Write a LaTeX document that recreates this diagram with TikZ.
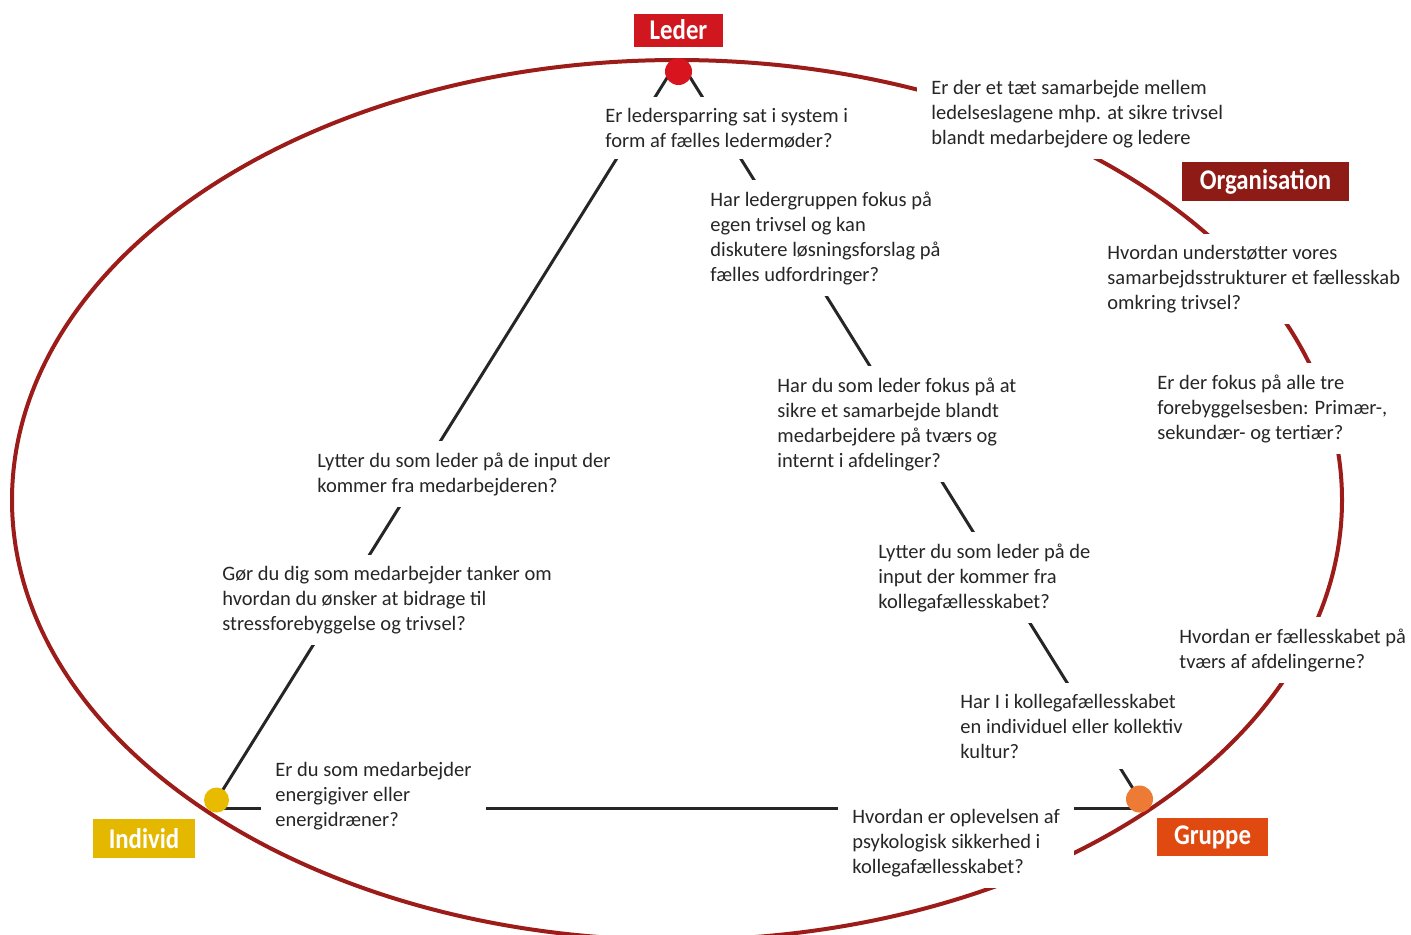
\documentclass[tikz,border=0pt]{standalone}
\usepackage{fontspec}
\setmainfont{Carlito}
\usetikzlibrary{backgrounds,calc}
\definecolor{txt}{HTML}{262626}
\definecolor{ringred}{HTML}{9B1C18}
\definecolor{lederred}{HTML}{D0161E}
\definecolor{orgred}{HTML}{8E1B15}
\definecolor{indyellow}{HTML}{E5B800}
\definecolor{grporange}{HTML}{E04A10}
\definecolor{dotred}{HTML}{D8141F}
\definecolor{dotyellow}{HTML}{E8BA00}
\definecolor{dotorange}{HTML}{EE7B35}
\begin{document}
\begin{tikzpicture}[x=0.5pt,y=-0.5pt,
  q/.style={anchor=base west, align=left, fill=white, inner xsep=7pt, inner ysep=5.5pt, text=txt, font=\fontsize{10.25pt}{12.5pt}\selectfont},
  dot/.style={circle, inner sep=0pt, draw=none},
  lab/.style={inner sep=0pt, text=white, font=\bfseries\fontsize{12.4pt}{14pt}\selectfont},
  tri/.style={line width=1.5pt, draw=black!85},
  ring/.style={line width=2pt, draw=ringred}]
\useasboundingbox (0,0) rectangle (1411,934);
% question texts (anchored at the baseline of their last line)
\node[q] (t1) at (591,147) {Er ledersparring sat i system i\\form af fælles ledermøder?};
\node[q] (t2) at (917,144) {Er der et tæt samarbejde mellem\\ledelseslagene mhp. at sikre trivsel\\blandt medarbejdere og ledere};
\node[q] (t3) at (696,281) {Har ledergruppen fokus på\\egen trivsel og kan\\diskutere løsningsforslag på\\fælles udfordringer?};
\node[q] (t4) at (1093,309) {Hvordan understøtter vores\\samarbejdsstrukturer et fællesskab\\omkring trivsel?};
\node[q] (t5) at (1143,439) {Er der fokus på alle tre\\forebyggelsesben: Primær-,\\sekundær- og tertiær?};
\node[q] (t6) at (763,467) {Har du som leder fokus på at\\sikre et samarbejde blandt\\medarbejdere på tværs og\\internt i afdelinger?};
\node[q] (t7) at (303,492) {Lytter du som leder på de input der\\kommer fra medarbejderen?};
\node[q] (t8) at (864,608) {Lytter du som leder på de\\input der kommer fra\\kollegafællesskabet?};
\node[q] (t9) at (208,630) {Gør du dig som medarbejder tanker om\\hvordan du ønsker at bidrage til\\stressforebyggelse og trivsel?};
\node[q] (t10) at (1165,668) {Hvordan er fællesskabet på\\tværs af afdelingerne?};
\node[q] (t11) at (946,758) {Har I i kollegafællesskabet\\en individuel eller kollektiv\\kultur?};
\node[q] (t12) at (261,826) {Er du som medarbejder\\energigiver eller\\energidræner?};
\node[q] (t13) at (838,873) {Hvordan er oplevelsen af\\psykologisk sikkerhed i\\kollegafællesskabet?};
% dots
\node[dot, fill=dotred, minimum size=13.5pt] (leder) at (678.5,71.5) {};
\node[dot, fill=dotyellow, minimum size=12.5pt] (ind) at (216.5,800) {};
\node[dot, fill=dotorange, minimum size=13.5pt] (grp) at (1139.5,799) {};
% labels
\node[lab, fill=lederred, minimum width=44.5pt, minimum height=16.5pt] (lLeder) at (678.5,30) {\scalebox{1}[1.15]{Leder}};
\node[lab, fill=orgred, minimum width=83.5pt, minimum height=19.5pt] (lOrg) at (1265.5,181.5) {\scalebox{1}[1.15]{Organisation}};
\node[lab, fill=indyellow, minimum width=51pt, minimum height=19.5pt] (lInd) at (144,838.5) {\scalebox{1}[1.15]{Individ}};
\node[lab, fill=grporange, minimum width=55.5pt, minimum height=19pt] (lGrp) at (1212.5,837) {\scalebox{1}[1.15]{Gruppe}};
\begin{pgfonlayer}{background}
\draw[ring] (677,500) ellipse [x radius=332.5pt, y radius=220pt];
\draw[tri] ($(leder.center)+(-7.5,0)$) -- (ind.center);
\draw[tri] ($(leder.center)+(8,0)$) -- (grp.center);
\draw[tri] ($(ind.center)+(0,8.5)$) -- ($(grp.center)+(0,9.5)$);
\end{pgfonlayer}
\end{tikzpicture}
\end{document}
